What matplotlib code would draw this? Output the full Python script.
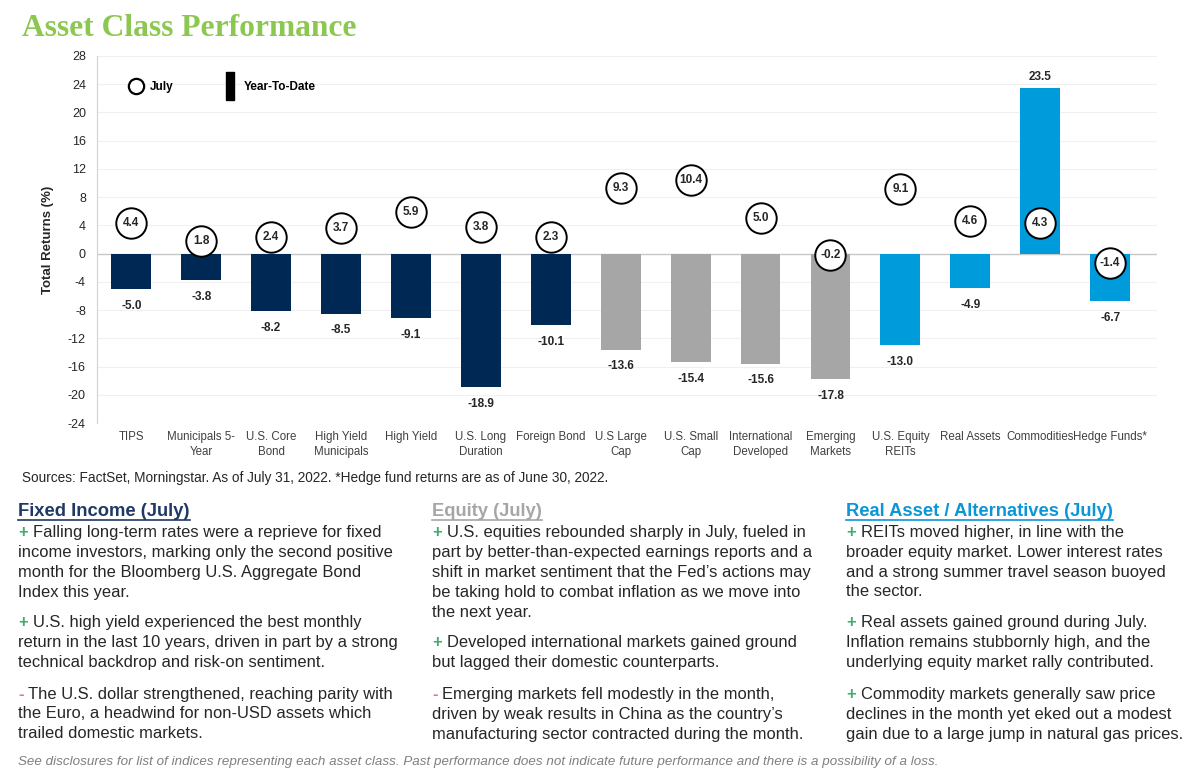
import numpy as np
import matplotlib
matplotlib.use("Agg")
import matplotlib.pyplot as plt
from matplotlib.lines import Line2D
from matplotlib.transforms import IdentityTransform

# chart data
categories = ["TIPS", "Municipals 5-\nYear", "U.S. Core\nBond", "High Yield\nMunicipals",
              "High Yield", "U.S. Long\nDuration", "Foreign Bond", "U.S Large\nCap",
              "U.S. Small\nCap", "International\nDeveloped", "Emerging\nMarkets",
              "U.S. Equity\nREITs", "Real Assets", "Commodities", "Hedge Funds*"]
ytd = [-5.0, -3.8, -8.2, -8.5, -9.1, -18.9, -10.1, -13.6, -15.4, -15.6, -17.8,
       -13.0, -4.9, 23.5, -6.7]
july = [4.4, 1.8, 2.4, 3.7, 5.9, 3.8, 2.3, 9.3, 10.4, 5.0, -0.2, 9.1, 4.6, 4.3, -1.4]
groups = ["fixed"] * 7 + ["equity"] * 4 + ["real"] * 4
yticks = list(range(-24, 29, 4))

NAVY = "#002855"
GRAY = "#A6A6A6"
BLUE = "#009BDB"
GREEN = "#3DAE6B"
RED = "#E8747C"
TXT = "#262626"
group_colors = {"fixed": NAVY, "equity": GRAY, "real": BLUE}

plt.rcParams['font.family'] = ['Liberation Sans', 'DejaVu Sans']

W, H = 1200, 777
fig = plt.figure(figsize=(12, 7.77), dpi=100)


def fx(px):
    return px / W


def fy(py):
    return 1 - py / H


ax = fig.add_axes([fx(97), fy(423), fx(1157) - fx(97), fy(56) - fy(423)])
x = np.arange(len(categories))
ax.bar(x, ytd, width=0.57, color=[group_colors[g] for g in groups], zorder=2)
ax.axhline(0, color="#C8C8C8", lw=1, zorder=1)
ax.scatter(x, july, s=480, facecolor="white", edgecolor="black", linewidth=1.4, zorder=4)

for xi, v in zip(x, ytd):
    off = 8 if v > 0 else -12
    ax.annotate(f"{v:.1f}", (xi, v), xytext=(0, off), textcoords="offset points",
                ha="center", va="center", fontsize=8.5, fontweight="bold", color=TXT)
for xi, v in zip(x, july):
    ax.text(xi, v, f"{v:.1f}", ha="center", va="center", fontsize=8.5,
            fontweight="bold", color=TXT, zorder=5)

ax.set_ylim(-24, 28)
ax.set_xlim(-0.49, len(categories) - 0.33)
ax.set_yticks(yticks)
ax.set_yticklabels([str(t) for t in yticks], fontsize=9, color=TXT)
ax.set_xticks(x)
ax.set_xticklabels(categories, fontsize=8.3, color="#404040", linespacing=1.25)
ax.tick_params(length=0, pad=8)
ax.tick_params(axis="x", pad=6)
ax.grid(axis="y", color="#F0F0F0", lw=0.8, zorder=0)
ax.set_axisbelow(True)
for s in ["top", "right", "bottom"]:
    ax.spines[s].set_visible(False)
ax.spines["left"].set_color("#D0D0D0")
ax.set_ylabel("Total Returns (%)", fontsize=9.5, fontweight="bold", color=TXT, labelpad=10)

rect = [(-0.28, -1), (0.28, -1), (0.28, 1), (-0.28, 1), (-0.28, -1)]
handles = [Line2D([], [], marker="o", ls="none", markersize=11, markerfacecolor="white",
                  markeredgecolor="black", markeredgewidth=1.6),
           Line2D([], [], marker=rect, ls="none", markersize=20, color="black")]
leg = ax.legend(handles, ["July", "Year-To-Date"], loc="upper left", ncol=2,
                bbox_to_anchor=(0.016, 0.96), frameon=False, handletextpad=0.15,
                columnspacing=3.8, prop={"weight": "bold", "size": 8.5})

# titles and notes
fig.text(fx(22), fy(28), "Asset Class Performance", fontsize=22.7, fontweight="bold",
         family="Liberation Serif", color="#8CC751", va="center")
fig.text(fx(22), fy(478), "Sources: FactSet, Morningstar. As of July 31, 2022. "
         "*Hedge fund returns are as of June 30, 2022.", fontsize=9.8, color=TXT, va="center")
fig.text(fx(18), fy(762), "See disclosures for list of indices representing each asset class. "
         "Past performance does not indicate future performance and there is a possibility of a loss.",
         fontsize=9.6, style="italic", color="#7F7F7F", va="center")

columns = [
    (18, "Fixed Income (July)", "#1F3864", [
        ("+", ["Falling long-term rates were a reprieve for fixed",
               "income investors, marking only the second positive",
               "month for the Bloomberg U.S. Aggregate Bond",
               "Index this year."]),
        ("+", ["U.S. high yield experienced the best monthly",
               "return in the last 10 years, driven in part by a strong",
               "technical backdrop and risk-on sentiment."]),
        ("-", ["The U.S. dollar strengthened, reaching parity with",
               "the Euro, a headwind for non-USD assets which",
               "trailed domestic markets."]),
    ]),
    (432, "Equity (July)", GRAY, [
        ("+", ["U.S. equities rebounded sharply in July, fueled in",
               "part by better-than-expected earnings reports and a",
               "shift in market sentiment that the Fed\u2019s actions may",
               "be taking hold to combat inflation as we move into",
               "the next year."]),
        ("+", ["Developed international markets gained ground",
               "but lagged their domestic counterparts."]),
        ("-", ["Emerging markets fell modestly in the month,",
               "driven by weak results in China as the country\u2019s",
               "manufacturing sector contracted during the month."]),
    ]),
    (846, "Real Asset / Alternatives (July)", "#0B96D8", [
        ("+", ["REITs moved higher, in line with the",
               "broader equity market. Lower interest rates",
               "and a strong summer travel season buoyed",
               "the sector."]),
        ("+", ["Real assets gained ground during July.",
               "Inflation remains stubbornly high, and the",
               "underlying equity market rally contributed."]),
        ("+", ["Commodity markets generally saw price",
               "declines in the month yet eked out a modest",
               "gain due to a large jump in natural gas prices."]),
    ]),
]

renderer = fig.canvas.get_renderer()
body_size = 11.9
for cx, head, hcol, paras in columns:
    t = fig.text(fx(cx), fy(511), head, fontsize=13.2, fontweight="bold", color=hcol, va="center")
    bb = t.get_window_extent(renderer)
    fig.add_artist(Line2D([bb.x0, bb.x1], [bb.y0, bb.y0], transform=IdentityTransform(),
                          color=hcol, lw=1.2))
    y = 532
    for sign, lines in paras:
        m = fig.text(fx(cx), fy(y), sign, fontsize=body_size, fontweight="bold",
                     color=GREEN if sign == "+" else RED, va="center")
        mb = m.get_window_extent(renderer)
        fig.text((mb.x1 + 5) / W, fy(y), lines[0], fontsize=body_size, color=TXT, va="center")
        for ln in lines[1:]:
            y += 20
            fig.text(fx(cx), fy(y), ln, fontsize=body_size, color=TXT, va="center")
        y += 31

fig.savefig("out.png", dpi=100)
